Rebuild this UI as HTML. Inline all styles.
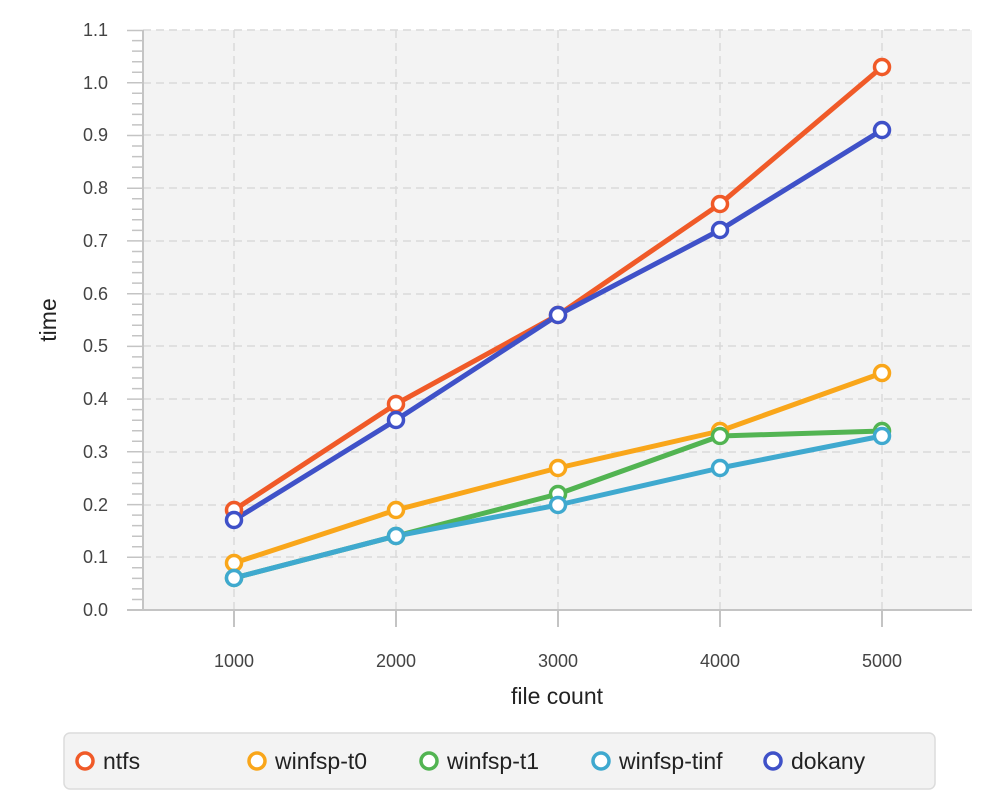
<!DOCTYPE html>
<html><head><style>body{margin:0;background:#fff}</style></head><body>
<svg width="1000" height="800" xmlns="http://www.w3.org/2000/svg" font-family="Liberation Sans, sans-serif">
<rect x="143" y="30" width="829" height="580" fill="#f3f3f3"/>
<g stroke="#d9d9d9" stroke-width="1.5" stroke-dasharray="8,5">
<line x1="143" x2="972" y1="30" y2="30"/><line x1="143" x2="972" y1="83" y2="83"/><line x1="143" x2="972" y1="135" y2="135"/><line x1="143" x2="972" y1="188" y2="188"/><line x1="143" x2="972" y1="241" y2="241"/><line x1="143" x2="972" y1="294" y2="294"/><line x1="143" x2="972" y1="346" y2="346"/><line x1="143" x2="972" y1="399" y2="399"/><line x1="143" x2="972" y1="452" y2="452"/><line x1="143" x2="972" y1="505" y2="505"/><line x1="143" x2="972" y1="557" y2="557"/>
<line x1="234" x2="234" y1="30" y2="610"/><line x1="396" x2="396" y1="30" y2="610"/><line x1="558" x2="558" y1="30" y2="610"/><line x1="720" x2="720" y1="30" y2="610"/><line x1="882" x2="882" y1="30" y2="610"/>
</g>
<g stroke="#c4c4c4" stroke-width="2">
<line x1="143" x2="143" y1="30" y2="610"/><line x1="127" x2="972" y1="610" y2="610"/>
<line x1="234" x2="234" y1="610" y2="627"/><line x1="396" x2="396" y1="610" y2="627"/><line x1="558" x2="558" y1="610" y2="627"/><line x1="720" x2="720" y1="610" y2="627"/><line x1="882" x2="882" y1="610" y2="627"/>
</g>
<path stroke="#c4c4c4" stroke-width="1.5" fill="none" d="M132 599.5H143M132 588.9H143M132 578.4H143M132 567.8H143M127 557.3H143M132 546.7H143M132 536.2H143M132 525.6H143M132 515.1H143M127 504.6H143M132 494H143M132 483.5H143M132 472.9H143M132 462.4H143M127 451.8H143M132 441.3H143M132 430.7H143M132 420.2H143M132 409.6H143M127 399.1H143M132 388.6H143M132 378H143M132 367.5H143M132 356.9H143M127 346.4H143M132 335.8H143M132 325.3H143M132 314.7H143M132 304.2H143M127 293.7H143M132 283.1H143M132 272.6H143M132 262H143M132 251.5H143M127 240.9H143M132 230.4H143M132 219.8H143M132 209.3H143M132 198.7H143M127 188.2H143M132 177.7H143M132 167.1H143M132 156.6H143M132 146H143M127 135.5H143M132 124.9H143M132 114.4H143M132 103.8H143M132 93.3H143M127 82.8H143M132 72.2H143M132 61.7H143M132 51.1H143M132 40.6H143M127 30.5H143"/>
<g fill="#444" font-size="18" text-anchor="end">
<text x="108" y="616">0.0</text><text x="108" y="563">0.1</text><text x="108" y="511">0.2</text><text x="108" y="458">0.3</text><text x="108" y="405">0.4</text><text x="108" y="352">0.5</text><text x="108" y="300">0.6</text><text x="108" y="247">0.7</text><text x="108" y="194">0.8</text><text x="108" y="141">0.9</text><text x="108" y="89">1.0</text><text x="108" y="36">1.1</text>
</g>
<g fill="#444" font-size="18" text-anchor="middle">
<text x="234" y="667">1000</text><text x="396" y="667">2000</text><text x="558" y="667">3000</text><text x="720" y="667">4000</text><text x="882" y="667">5000</text>
</g>
<text x="557" y="704" font-size="23" fill="#222" text-anchor="middle">file count</text>
<text transform="translate(56,320) rotate(-90)" font-size="23" fill="#222" text-anchor="middle">time</text>
<g fill="none" stroke-width="5" stroke-linejoin="round">
<polyline stroke="#f05a28" points="234,510 396,404 558,315 720,204 882,67"/>
<polyline stroke="#f9a61a" points="234,563 396,510 558,468 720,431 882,373"/>
<polyline stroke="#52b452" points="234,578 396,536 558,494 720,436 882,431"/>
<polyline stroke="#3fa9cf" points="234,578 396,536 558,505 720,468 882,436"/>
<polyline stroke="#3f51c8" points="234,520 396,420 558,315 720,230 882,130"/>
</g>
<g fill="#fff" stroke-width="3.5">
<g stroke="#f05a28"><circle cx="234" cy="510" r="7.5"/><circle cx="396" cy="404" r="7.5"/><circle cx="558" cy="315" r="7.5"/><circle cx="720" cy="204" r="7.5"/><circle cx="882" cy="67" r="7.5"/></g>
<g stroke="#f9a61a"><circle cx="234" cy="563" r="7.5"/><circle cx="396" cy="510" r="7.5"/><circle cx="558" cy="468" r="7.5"/><circle cx="720" cy="431" r="7.5"/><circle cx="882" cy="373" r="7.5"/></g>
<g stroke="#52b452"><circle cx="234" cy="578" r="7.5"/><circle cx="396" cy="536" r="7.5"/><circle cx="558" cy="494" r="7.5"/><circle cx="720" cy="436" r="7.5"/><circle cx="882" cy="431" r="7.5"/></g>
<g stroke="#3fa9cf"><circle cx="234" cy="578" r="7.5"/><circle cx="396" cy="536" r="7.5"/><circle cx="558" cy="505" r="7.5"/><circle cx="720" cy="468" r="7.5"/><circle cx="882" cy="436" r="7.5"/></g>
<g stroke="#3f51c8"><circle cx="234" cy="520" r="7.5"/><circle cx="396" cy="420" r="7.5"/><circle cx="558" cy="315" r="7.5"/><circle cx="720" cy="230" r="7.5"/><circle cx="882" cy="130" r="7.5"/></g>
</g>
<rect x="64" y="733" width="871" height="56" rx="6" fill="#f3f3f3" stroke="#dcdcdc" stroke-width="1.5"/>
<g fill="#fff" stroke-width="3.5">
<circle cx="85" cy="761" r="8" stroke="#f05a28"/><circle cx="257" cy="761" r="8" stroke="#f9a61a"/><circle cx="429" cy="761" r="8" stroke="#52b452"/><circle cx="601" cy="761" r="8" stroke="#3fa9cf"/><circle cx="773" cy="761" r="8" stroke="#3f51c8"/>
</g>
<g font-size="23" fill="#222">
<text x="103" y="769">ntfs</text><text x="275" y="769">winfsp-t0</text><text x="447" y="769">winfsp-t1</text><text x="619" y="769">winfsp-tinf</text><text x="791" y="769">dokany</text>
</g>
</svg>
</body></html>
